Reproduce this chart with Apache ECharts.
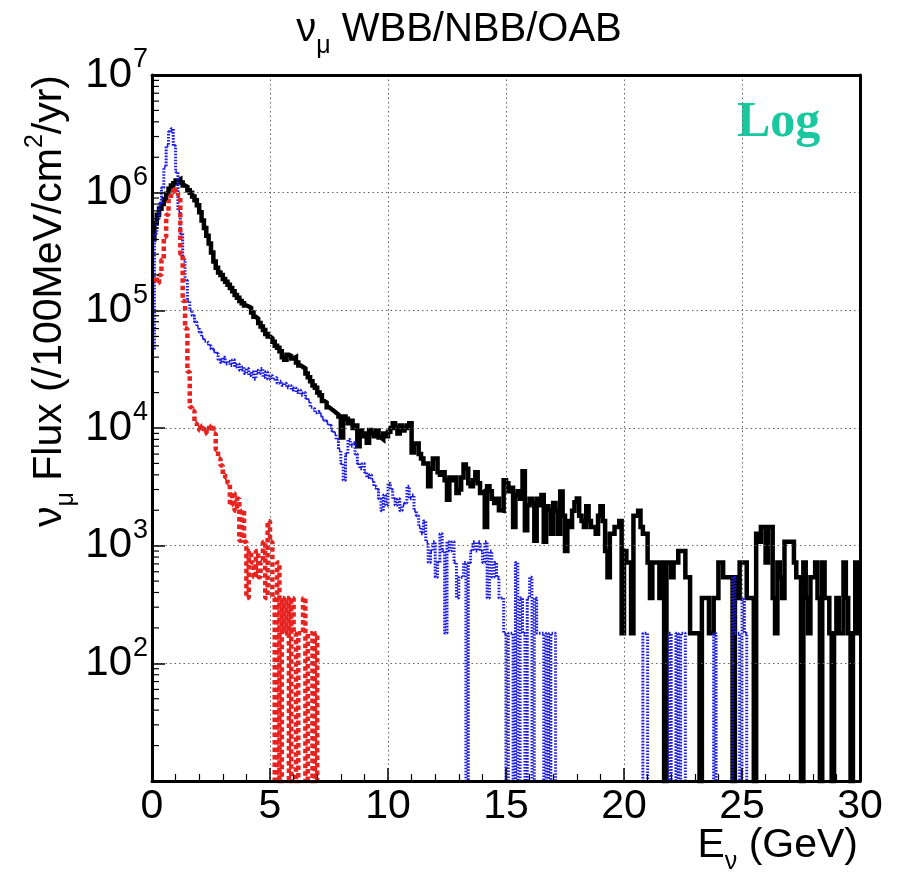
<!DOCTYPE html>
<html>
<head>
<meta charset="utf-8">
<script src="https://cdn.jsdelivr.net/npm/echarts@6/dist/echarts.min.js"></script>
<style>
html,body{margin:0;padding:0;background:#fff;}
#c{width:901px;height:874px;}
</style>
</head>
<body>
<div id="c"></div>
<script>
// ---- data: flux per 0.1 GeV bin, bin left edges 0.0 ... 29.9 GeV ----
const binWidth = 0.1;
const xTickLabels = ['0','5','10','15','20','25','30'];
const yDecades = [10, 100, 1000, 10000, 100000, 1000000, 10000000];

const wbb = [
 4.0e5,5.5e5,6.5e5,7.3e5,8.0e5,8.8e5,9.8e5,1.08e6,1.15e6,1.2e6,
 1.27e6,1.3e6,1.22e6,1.15e6,1.12e6,1.05e6,1.0e6,9.3e5,8.6e5,7.8e5,
 6.8e5,5.8e5,5.0e5,4.3e5,3.7e5,3.1e5,2.6e5,2.3e5,2.1e5,2.0e5,
 1.85e5,1.75e5,1.65e5,1.55e5,1.45e5,1.35e5,1.28e5,1.2e5,1.15e5,1.1e5,
 1.08e5,1.05e5,9.6e4,8.8e4,8.5e4,7.8e4,7.3e4,6.8e4,6.3e4,6.0e4,
 5.8e4,5.4e4,5.0e4,4.8e4,4.5e4,4.0e4,3.8e4,4.2e4,4.1e4,3.9e4,
 4.0e4,3.6e4,3.4e4,3.3e4,3.2e4,2.9e4,2.7e4,2.5e4,2.3e4,2.2e4,
 2.0e4,1.9e4,1.7e4,1.65e4,1.5e4,1.45e4,1.4e4,1.35e4,1.3e4,1.25e4,
 8.3e3,1.25e4,1.2e4,1.1e4,1.15e4,1.0e4,1.05e4,7.0e3,9.5e3,8.5e3,
 9.0e3,7.5e3,9.6e3,9.0e3,8.5e3,9.5e3,8.3e3,8.0e3,9.0e3,8.5e3,
 9.3e3,1.0e4,1.1e4,1.0e4,9.0e3,1.05e4,9.5e3,1.0e4,1.05e4,1.1e4,
 6.2e3,7.4e3,7.4e3,6.0e3,5.5e3,5.0e3,5.0e3,3.2e3,4.5e3,5.5e3,
 5.5e3,4.2e3,4.0e3,4.2e3,3.6e3,2.45e3,3.8e3,3.6e3,3.8e3,2.8e3,
 3.0e3,3.8e3,4.9e3,4.5e3,3.4e3,3.2e3,3.6e3,4.2e3,3.4e3,2.8e3,
 2.9e3,1.44e3,3.2e3,2.9e3,2.5e3,2.3e3,2.5e3,2.0e3,1.98e3,3.6e3,
 3.4e3,2.9e3,3.1e3,1.44e3,2.7e3,2.9e3,2.5e3,4.3e3,1.35e3,2.2e3,
 2.5e3,2.3e3,1.1e3,2.5e3,2.2e3,2.7e3,1.08e3,2.16e3,2.0e3,1.26e3,
 2.3e3,1.98e3,1.26e3,2.88e3,1.8e3,900,1620,1440,1980,2340,
 2520,1800,1620,1440,2160,1620,1440,1440,1260,1800,
 2160,1620,900,540,1260,1260,1440,1440,1620,180,
 900,720,720,180,1800,1800,1980,1440,1260,1260,
 720,360,720,720,720,360,720,0,720,720,
 540,720,720,900,900,900,540,540,180,180,
 180,180,0,360,360,360,180,180,360,360,
 720,720,540,540,540,540,0,540,360,720,
 720,720,360,360,360,0,1260,1080,1440,1440,
 720,1440,1440,360,180,720,540,360,1080,1080,
 1080,1080,720,540,540,0,720,360,180,540,
 540,720,360,0,720,360,360,180,0,180,
 360,180,180,720,360,180,0,180,720,180
];

const nbb = [
 4.6e4,4.5e5,6.0e5,8.0e5,1.1e6,1.65e6,2.5e6,3.3e6,3.5e6,2.5e6,
 1.5e6,7.0e5,4.5e5,2.7e5,1.8e5,1.2e5,1.0e5,9.0e4,8.0e4,7.2e4,
 6.5e4,5.9e4,5.5e4,5.3e4,5.0e4,4.7e4,4.5e4,4.3e4,3.8e4,3.6e4,
 4.0e4,3.5e4,3.7e4,3.4e4,3.8e4,3.3e4,3.5e4,3.1e4,3.3e4,2.9e4,
 3.2e4,2.8e4,3.0e4,2.6e4,3.1e4,2.9e4,3.2e4,2.7e4,3.0e4,2.6e4,
 2.8e4,2.6e4,2.7e4,2.4e4,2.5e4,2.3e4,2.4e4,2.2e4,2.3e4,2.1e4,
 2.2e4,2.0e4,2.1e4,1.9e4,2.0e4,1.8e4,1.7e4,1.5e4,1.45e4,1.35e4,
 1.4e4,1.3e4,1.2e4,1.15e4,1.1e4,1.05e4,9.5e3,9.0e3,8.0e3,6.5e3,
 5.0e3,3.6e3,6.0e3,8.0e3,7.0e3,7.5e3,6.0e3,5.0e3,4.5e3,5.0e3,
 4.2e3,3.8e3,4.0e3,3.6e3,3.2e3,3.0e3,2.5e3,1.98e3,2.7e3,2.2e3,
 3.4e3,3.0e3,2.5e3,2.2e3,2.5e3,1.98e3,2.2e3,2.3e3,3.2e3,2.5e3,
 2.7e3,1.98e3,1.8e3,1.44e3,1.26e3,1.62e3,1.08e3,720,900,1080,
 540,720,1260,900,180,1080,900,1080,720,360,
 540,540,720,0,720,900,1080,900,1080,900,
 720,1080,360,900,540,720,540,360,360,180,
 0,180,180,0,720,0,360,180,0,360,
 540,0,360,180,180,180,0,180,0,180,
 180,0,0,0,0,0,0,0,0,0,
 0,0,0,0,0,0,0,0,0,0,
 0,0,0,0,0,0,0,0,0,0,
 0,0,0,0,0,0,0,0,180,180,
 0,0,0,0,0,0,0,0,0,180,
 0,0,180,0,180,180,0,0,0,0,
 0,0,0,0,0,0,0,0,180,0,
 0,0,0,0,0,0,540,180,180,0,
 360,180,0,0,0,0,0,0,0,0,
 0,0,0,0,0,0,0,0,0,0,
 0,0,0,0,0,0,0,0,0,0,
 0,0,0,0,0,0,0,0,0,0,
 0,0,0,0,0,0,0,0,0,0
];

const oab = [
 1.8e5,1.9e5,1.7e5,2.0e5,2.7e5,4.2e5,6.5e5,8.5e5,1.0e6,1.1e6,
 1.05e6,9.5e5,3.0e5,1.2e5,7.0e4,3.0e4,1.5e4,1.4e4,1.1e4,1.0e4,
 9.5e3,1.05e4,9.0e3,1.0e4,9.5e3,1.05e4,9.0e3,6.5e3,5.5e3,4.8e3,
 4.0e3,3.8e3,3.4e3,2.2e3,2.8e3,1.98e3,2.5e3,1.1e3,2.0e3,1.08e3,
 360,900,720,540,900,540,720,1080,360,1620,
 1080,360,0,720,0,360,180,360,0,360,
 180,0,180,180,360,0,180,180,0,180,
 0,0,0,0,0,0,0,0,0,0,
 0,0,0,0,0,0,0,0,0,0,
 0,0,0,0,0,0,0,0,0,0,
 0,0,0,0,0,0,0,0,0,0,
 0,0,0,0,0,0,0,0,0,0,
 0,0,0,0,0,0,0,0,0,0,
 0,0,0,0,0,0,0,0,0,0,
 0,0,0,0,0,0,0,0,0,0,
 0,0,0,0,0,0,0,0,0,0,
 0,0,0,0,0,0,0,0,0,0,
 0,0,0,0,0,0,0,0,0,0,
 0,0,0,0,0,0,0,0,0,0,
 0,0,0,0,0,0,0,0,0,0,
 0,0,0,0,0,0,0,0,0,0,
 0,0,0,0,0,0,0,0,0,0,
 0,0,0,0,0,0,0,0,0,0,
 0,0,0,0,0,0,0,0,0,0,
 0,0,0,0,0,0,0,0,0,0,
 0,0,0,0,0,0,0,0,0,0,
 0,0,0,0,0,0,0,0,0,0,
 0,0,0,0,0,0,0,0,0,0,
 0,0,0,0,0,0,0,0,0,0,
 0,0,0,0,0,0,0,0,0,0
];

// ---- build step-histogram data (empty bins drop below the axis floor) ----
const FLOOR = 1;
function histData(vals) {
  const d = vals.map((v, i) => [+(i * binWidth).toFixed(1), v > 0 ? v : FLOOR]);
  const last = vals[vals.length - 1];
  d.push([+(vals.length * binWidth).toFixed(1), last > 0 ? last : FLOOR]);
  return d;
}
const minorMult = [2,3,4,5,6,7,8,9];
const yMinorTicks = [];
yDecades.slice(0, -1).forEach(d => minorMult.forEach(m => yMinorTicks.push([0, d * m])));

const FONT = '"Liberation Sans", Arial, Helvetica, sans-serif';
const chart = echarts.init(document.getElementById('c'), null, {renderer: 'canvas'});

const option = {
  animation: false,
  backgroundColor: '#fff',
  grid: {left: 152, right: 41, top: 75, bottom: 93, containLabel: false, outerBoundsMode: 'none',
         show: false},
  xAxis: [{
    type: 'value', min: 0, max: 30, interval: 5, z: 10,
    axisLine: {show: true, onZero: false, lineStyle: {color: '#000', width: 3}},
    axisTick: {show: true, inside: true, length: 13, lineStyle: {color: '#000', width: 1.5}},
    minorTick: {show: true, splitNumber: 5, length: 7, lineStyle: {color: '#000', width: 1.2}},
    splitLine: {show: true, lineStyle: {color: '#666', width: 1, type: [1.5, 3]}},
    axisLabel: {show: true, margin: 5, color: '#000', fontSize: 41, fontFamily: FONT,
      formatter: v => xTickLabels[Math.round(v / 5)] ?? ''}
  }, {
    type: 'value', min: 0, max: 30, position: 'top', z: 10,
    axisLine: {show: true, onZero: false, lineStyle: {color: '#000', width: 3}},
    axisTick: {show: false}, axisLabel: {show: false}, splitLine: {show: false}
  }],
  yAxis: [{
    type: 'log', logBase: 10, min: 10, max: 1e7, z: 10,
    axisLine: {show: true, onZero: false, lineStyle: {color: '#000', width: 3}},
    axisTick: {show: true, inside: true, length: 13, lineStyle: {color: '#000', width: 1.5}},
    splitLine: {show: true, lineStyle: {color: '#666', width: 1, type: [1.5, 3]}},
    axisLabel: {
      show: true, margin: 4, color: '#000', fontFamily: FONT,
      formatter: v => {
        const e = Math.round(Math.log10(v));
        return e < 2 ? '' : '{b|10}{s|' + e + '}';
      },
      rich: {
        b: {fontSize: 42, fontFamily: FONT, color: '#000', lineHeight: 42},
        s: {fontSize: 27, fontFamily: FONT, color: '#000', padding: [0, 0, 30, 1]}
      }
    }
  }, {
    type: 'log', logBase: 10, min: 10, max: 1e7, position: 'right', z: 10,
    axisLine: {show: true, onZero: false, lineStyle: {color: '#000', width: 3}},
    axisTick: {show: false}, axisLabel: {show: false}, splitLine: {show: false}
  }],
  series: [
    {
      name: 'WBB', type: 'line', step: 'end', data: histData(wbb),
      showSymbol: false, symbol: 'none', clip: true, z: 3,
      lineStyle: {color: '#000', width: 4.5, join: 'miter'}
    },
    {
      name: 'NBB', type: 'line', step: 'end', data: histData(nbb),
      showSymbol: false, symbol: 'none', clip: true, z: 4,
      lineStyle: {color: '#1c1ce0', width: 3, type: [1.6, 1.4]}
    },
    {
      name: 'OAB', type: 'line', step: 'end', data: histData(oab),
      showSymbol: false, symbol: 'none', clip: true, z: 5,
      lineStyle: {color: '#e8221e', width: 4.5, type: [4.5, 3]}
    },
    {
      name: 'yMinorTicks', type: 'custom', data: yMinorTicks, silent: true, clip: false, z: 11,
      renderItem: (params, api) => {
        const p = api.coord([api.value(0), api.value(1)]);
        return {type: 'line', shape: {x1: p[0], y1: p[1], x2: p[0] + 7, y2: p[1]},
                style: {stroke: '#000', lineWidth: 1.2}};
      }
    }
  ],
  graphic: [
    {
      type: 'text', x: 459, y: 30, silent: true,
      style: {
        text: '{g|ν}{sub|μ}{g| WBB/NBB/OAB}', align: 'center', verticalAlign: 'middle',
        rich: {
          g: {fontSize: 40, fontFamily: FONT, fill: '#000'},
          sub: {fontSize: 25, fontFamily: FONT, fill: '#000', padding: [32, 0, 0, 0]}
        }
      }
    },
    {
      type: 'text', x: 50, y: 75, rotation: Math.PI / 2, silent: true,
      style: {
        text: '{g|ν}{sub|μ}{g| Flux (/100MeV/cm}{sup|2}{g|/yr)}', align: 'right', verticalAlign: 'middle',
        rich: {
          g: {fontSize: 41, fontFamily: FONT, fill: '#000'},
          sub: {fontSize: 25, fontFamily: FONT, fill: '#000', padding: [32, 0, 0, 0]},
          sup: {fontSize: 25, fontFamily: FONT, fill: '#000', padding: [0, 0, 30, 0]}
        }
      }
    },
    {
      type: 'text', x: 858, y: 846, silent: true,
      style: {
        text: '{g|E}{sub|ν}{g| (GeV)}', align: 'right', verticalAlign: 'middle',
        rich: {
          g: {fontSize: 41, fontFamily: FONT, fill: '#000'},
          sub: {fontSize: 25, fontFamily: FONT, fill: '#000', padding: [32, 0, 0, 0]}
        }
      }
    },
    {
      type: 'text', x: 737, y: 123, silent: true,
      style: {
        text: 'Log', align: 'left', verticalAlign: 'middle',
        font: 'bold 50px "Liberation Serif", "Times New Roman", serif', fill: '#19c89f'
      }
    }
  ]
};
chart.setOption(option);
</script>
</body>
</html>
